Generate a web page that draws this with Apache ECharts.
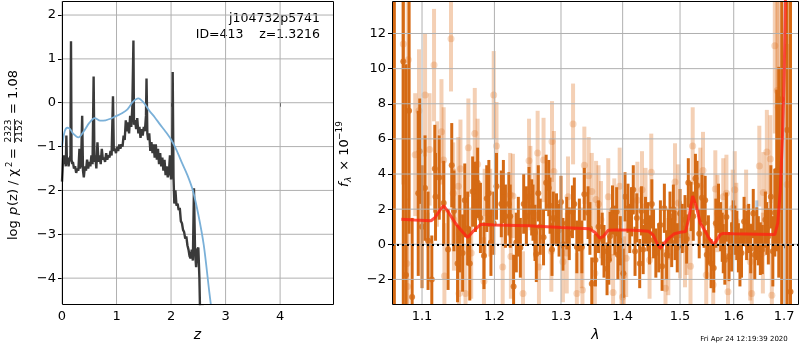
<!DOCTYPE html>
<html>
<head>
<meta charset="utf-8">
<script src="https://cdn.jsdelivr.net/npm/echarts@6/dist/echarts.min.js"></script>
<style>
html, body { margin: 0; padding: 0; background: #fff; }
#chart { width: 800px; height: 350px; }
</style>
</head>
<body>
<div id="chart"></div>
<script>
// left panel: log p(z) and the smooth curve
var pzZ = [0.00,0.01,0.02,0.03,0.04,0.05,0.06,0.07,0.08,0.09,0.10,0.11,0.12,0.13,0.14,0.155,0.165,0.175,0.19,0.20,
    0.22,0.24,0.26,0.28,0.30,0.32,0.33,0.35,0.37,0.385,0.40,0.42,0.44,0.46,0.48,0.50,0.52,0.54,0.56,0.58,
    0.595,0.61,0.63,0.65,0.67,0.69,0.71,0.73,0.75,0.77,0.79,0.81,0.83,0.85,0.87,0.89,0.91,0.935,0.95,0.97,
    0.99,1.01,1.03,1.05,1.07,1.09,1.11,1.13,1.15,1.17,1.19,1.21,1.23,1.25,1.27,1.29,1.31,1.32,1.34,1.36,
    1.38,1.40,1.42,1.44,1.46,1.48,1.50,1.52,1.54,1.55,1.565,1.58,1.60,1.62,1.64,1.66,1.68,1.70,1.72,1.74,
    1.76,1.78,1.80,1.82,1.84,1.86,1.88,1.90,1.92,1.94,1.96,1.98,2.00,2.02,2.03,2.045,2.06,2.08,2.10,2.12,
    2.14,2.16,2.18,2.20,2.22,2.24,2.26,2.28,2.30,2.32,2.34,2.36,2.38,2.40,2.42,2.44,2.46,2.48,2.50,2.52,
    2.53,2.60];
var pzLog = [-1.80,-1.55,-1.25,-1.35,-1.20,-1.40,-1.30,-1.45,-0.75,-1.35,-1.40,-1.25,-1.45,-1.35,-1.30,-1.20,1.40,-1.30,-1.40,-1.35,
    -1.50,-1.45,-1.60,-1.50,-1.55,-1.05,-1.50,-1.40,-0.30,-1.55,-1.70,-1.45,-1.55,-1.30,-1.50,-1.35,-1.45,-1.20,-1.40,0.60,
    -1.35,-1.20,-1.50,-0.90,-1.35,-1.20,-1.40,-1.05,-1.30,-1.25,-1.35,-1.15,-1.30,-1.20,-1.25,-1.10,-1.20,0.15,-1.10,-1.05,
    -1.15,-1.00,-1.10,-0.95,-1.05,-0.95,-1.00,-0.75,-0.85,-0.40,-0.65,-0.45,-0.70,-0.30,-0.55,-0.10,1.42,-0.50,-0.40,-0.60,
    -0.35,-0.70,-0.55,-0.80,-0.60,-0.75,-0.55,-0.65,-0.30,0.55,-0.70,-0.85,-0.70,-1.10,-0.90,-1.15,-0.95,-1.25,-0.95,-1.30,
    -1.05,-1.40,-1.15,-1.45,-1.25,-1.55,-1.30,-1.65,-1.45,-1.70,-1.60,-1.20,-1.75,-1.30,0.70,-1.70,-2.30,-2.00,-2.35,-2.30,
    -2.45,-2.40,-2.70,-2.75,-2.90,-2.95,-3.10,-3.05,-3.25,-3.35,-3.50,-3.55,-3.35,-3.60,-1.95,-3.40,-3.75,-3.35,-3.30,-4.00,
    -4.65,-4.65];
var fitZ = [0,0.05,0.10,0.15,0.20,0.30,0.40,0.50,0.60,0.70,0.80,0.90,1.00,1.10,1.20,1.30,1.40,1.50,1.60,1.70,
    1.80,1.90,2.00,2.10,2.20,2.30,2.40,2.50,2.60,2.70,2.75];
var fitLog = [-1.00,-0.65,-0.57,-0.60,-0.70,-0.79,-0.65,-0.46,-0.35,-0.41,-0.40,-0.36,-0.30,-0.24,-0.15,0.02,0.10,0.00,-0.18,-0.33,
    -0.50,-0.66,-0.84,-1.08,-1.37,-1.65,-2.00,-2.55,-3.25,-4.30,-4.80];

// right panel: spectrum (dark and light sets), model, a few blue points
var darkLam = [1.064,1.0755,1.079,1.083,1.087,1.095,1.097,1.104,1.108,1.113,1.117,1.118,1.129,1.135,1.140,1.148,1.151,1.155,1.162,1.165,
    1.169,1.173,1.176,1.180,1.185,1.189,1.192,1.195,1.203,
    1.210,1.216,1.221,1.223,1.228,1.232,1.238,1.243,1.247,1.251,1.255,1.260,1.262,1.268,1.273,1.277,1.281,1.283,1.288,1.293,
    1.297,1.303,1.309,1.318,1.325,1.333,1.337,1.343,1.349,1.355,1.360,1.366,
    1.369,1.374,1.379,1.383,1.390,1.392,1.401,1.404,1.409,1.415,1.418,1.424,1.429,1.435,1.439,1.446,1.453,1.462,1.468,1.472,
    1.479,1.485,1.491,1.500,1.509,1.515,1.520,1.528,1.531,1.535,
    1.540,1.546,1.552,1.557,1.562,1.566,1.571,1.575,1.580,1.586,1.591,1.596,1.602,1.609,1.615,1.620,1.625,1.633,1.638,1.645,
    1.652,1.662,1.668,1.673,1.677,1.685,1.689,1.695,1.706,1.713,
    1.100,1.123,1.143,1.158,1.199,1.213,1.235,1.257,1.265,1.286,1.300,1.313,1.321,1.329,1.346,1.377,1.387,1.396,1.412,1.421,
    1.432,1.443,1.450,1.457,1.465,1.476,1.482,1.488,1.495,1.504,1.512,1.524,1.544,1.549,1.578,1.583,1.599,1.606,1.612,1.629,
    1.641,1.648,1.656,1.665,1.681];
var darkFlux = [-4.0,10.4,-1.75,7.6,-3.0,2.9,5.3,3.2,0.2,-2.0,4.3,2.7,2.35,-0.3,4.5,-1.1,0.6,-0.5,0.9,-1.1,
    3.0,2.7,3.5,1.5,-0.65,2.6,2.9,0.1,3.3,
    2.3,1.6,2.3,1.6,-2.4,0.1,-0.2,2.3,1.6,2.7,2.1,0.65,-0.55,1.0,0.4,3.5,3.2,2.2,1.5,1.4,
    0.8,0.0,1.2,1.85,-0.15,-0.15,2.85,1.8,-2.25,-0.9,1.0,0.3,
    -0.4,-1.4,0.45,1.95,1.85,-0.6,-1.65,2.7,2.05,1.85,3.1,1.5,-1.1,-0.3,1.3,0.25,0.6,-0.2,-1.25,2.05,
    0.6,0.1,0.5,1.75,1.4,3.5,2.15,3.75,3.35,0.6,
    2.65,2.5,0.25,-1.1,-1.35,1.2,2.05,1.0,-0.25,1.55,-0.7,-0.15,0.8,-0.2,-0.5,1.3,0.5,-0.25,1.75,0.6,
    -0.25,1.4,0.45,2.7,-0.4,4.2,4.1,8.25,6.5,-2.7,
    1.0,3.8,1.9,2.5,1.2,3.0,1.0,1.8,2.9,-0.3,2.4,0.6,2.3,1.1,0.9,-0.9,0.8,0.2,0.9,-0.4,
    1.9,1.0,2.3,-0.5,1.1,-0.6,1.6,2.0,-0.2,0.9,0.3,1.6,1.2,-0.6,0.4,-0.9,1.1,0.5,-1.0,0.9,
    -0.6,0.2,-0.3,0.9,1.8];
var darkErr = [20,16,12,7,4.5,4.7,3.0,3.0,2.8,2.5,2.5,2.5,2.4,2.3,2.4,2.2,2.2,2.2,2.1,2.1,
    2.0,2.0,2.0,2.0,1.9,1.9,1.9,1.9,1.9,
    1.9,1.8,1.8,1.8,1.8,1.7,1.7,1.7,1.7,1.7,1.6,1.6,1.6,1.6,1.6,1.6,1.6,1.6,1.5,1.5,
    1.5,1.5,1.5,1.5,1.5,1.5,1.5,1.5,1.5,1.5,1.5,1.5,
    1.5,1.5,1.4,1.4,1.4,1.4,1.4,1.4,1.4,1.4,1.4,1.4,1.4,1.4,1.4,1.4,1.4,1.4,1.4,1.4,
    1.4,1.4,1.4,1.4,1.4,1.4,1.4,1.4,1.4,1.4,
    1.4,1.4,1.4,1.4,1.4,1.4,1.4,1.4,1.4,1.4,1.4,1.4,1.4,1.4,1.4,1.4,1.4,1.4,1.4,1.5,
    1.5,1.6,1.6,1.8,2.0,4.6,6,12,20,20,
    3.5,2.4,2.3,2.1,1.8,1.8,1.7,1.6,1.6,1.5,1.5,1.5,1.5,1.5,1.5,1.4,1.4,1.4,1.4,1.4,
    1.4,1.4,1.4,1.4,1.4,1.4,1.4,1.4,1.4,1.4,1.4,1.4,1.4,1.4,1.4,1.4,1.4,1.4,1.4,1.4,
    1.4,1.4,1.4,1.5,2.5];

var lightLam = [1.0755,1.080,1.081,1.082,1.091,1.096,1.104,1.110,1.116,1.120,1.126,1.129,1.130,1.139,1.142,1.143,1.149,1.150,1.152,1.159,
    1.163,1.167,1.172,1.176,1.185,1.186,1.194,1.199,1.203,
    1.212,1.223,1.224,1.227,1.242,1.251,1.253,1.260,1.264,1.266,1.273,1.285,1.286,1.289,1.303,1.309,1.311,1.319,1.325,1.332,
    1.334,1.337,1.344,1.349,1.354,1.356,1.360,1.364,
    1.376,1.384,1.386,1.395,1.398,1.400,1.402,1.406,1.425,1.433,1.439,1.446,1.449,1.474,1.479,1.491,1.497,1.500,1.509,1.512,
    1.519,1.523,1.537,1.542,1.548,
    1.561,1.565,1.569,1.580,1.586,1.589,1.598,1.602,1.605,1.624,1.632,1.635,1.650,1.657,1.658,1.665,1.672,1.675,1.681,1.686,
    1.688,1.706];
var lightFlux = [11.4,-1.1,-2.4,10.5,5.1,7.6,8.5,5.4,10.2,4.0,6.4,4.8,-1.8,11.7,2.9,1.4,3.3,-2.8,4.3,-2.8,
    5.5,-0.5,6.3,4.55,-2.1,1.8,1.8,8.5,5.6,
    -1.3,2.8,-0.7,2.75,-2.8,4.75,3.2,1.65,5.2,-1.3,4.8,-0.4,5.85,4.15,-1.0,-0.5,2.7,6.85,-2.8,-0.2,
    -2.6,4.5,3.9,3.0,-1.65,2.55,2.3,1.4,
    2.7,-2.75,1.55,3.3,-1.35,-3.0,-1.75,-0.8,2.5,3.1,2.15,-0.9,4.1,-2.5,-0.7,3.55,2.35,0.25,-0.25,0.45,
    -1.25,5.6,3.3,4.2,-1.75,
    -2.3,3.15,1.75,2.7,2.9,-2.7,2.05,3.1,1.3,2.05,-1.0,-2.8,4.45,-0.5,2.95,5.25,4.85,-2.9,11.3,8.75,
    7.8,3.4];
var lightErr = [8,5,5,8,3.5,3.5,3.5,3.2,3.2,3.0,3.0,3.0,3.0,3.0,2.9,2.9,2.8,2.8,2.8,2.8,
    2.8,2.6,2.6,2.6,2.5,2.5,2.5,2.5,2.5,
    2.4,2.4,2.4,2.4,2.4,2.4,2.4,2.4,2.4,2.4,2.4,2.3,2.3,2.3,2.3,2.3,2.3,2.3,2.3,2.3,
    2.3,2.2,2.2,2.2,2.2,2.2,2.2,2.2,
    2.2,2.2,2.2,2.2,2.2,2.2,2.2,2.2,2.2,2.2,2.2,2.2,2.2,2.2,2.2,2.2,2.2,2.2,2.2,2.2,
    2.2,2.2,2.2,2.2,2.2,
    2.2,2.2,2.2,2.2,2.2,2.2,2.2,2.2,2.2,2.2,2.2,2.2,2.3,2.3,2.3,2.4,2.5,2.5,5,6,
    6,8];

var blueLam = [1.108, 1.645, 1.683];
var blueFlux = [0.8, 1.5, 2.6];
var blueErr = [1.0, 1.0, 1.2];

var modelLam = [1.073,1.09,1.112,1.118,1.124,1.129,1.135,1.145,1.155,1.162,1.17,1.18,1.19,1.2,1.25,1.3,1.345,1.355,1.362,1.368,
    1.376,1.39,1.42,1.444,1.452,1.46,1.465,1.47,1.48,1.49,1.5,1.51,1.516,1.523,1.53,1.537,1.545,1.553,1.561,1.566,
    1.574,1.58,1.6,1.65,1.681,1.687,1.692,1.697,1.70,1.703];
var modelFlux = [1.42,1.38,1.34,1.55,1.95,2.2,1.85,1.2,0.7,0.38,0.75,1.12,1.12,1.1,1.05,0.95,0.88,0.65,0.35,0.45,
    0.8,0.82,0.8,0.74,0.55,0.0,-0.22,0.0,0.35,0.6,0.68,0.72,1.5,2.75,2.1,1.2,0.8,0.35,0.02,0.15,
    0.55,0.62,0.6,0.57,0.55,1.2,3.0,6.5,9.5,14.5];

var zTicks = [0, 1, 2, 3, 4];
var logTicks = [-4, -3, -2, -1, 0, 1, 2];
var lamTicks = [1.1, 1.2, 1.3, 1.4, 1.5, 1.6, 1.7];
var fluxTicks = [-2, 0, 2, 4, 6, 8, 10, 12];

var Z_RANGE = [0, 4.97], LOG_RANGE = [-4.59, 2.32];
var LAM_RANGE = [1.061, 1.7306], FLUX_RANGE = [-3.4, 13.85];
var FONT = 'DejaVu Sans';

var el = document.getElementById('chart');
var myChart = echarts.init(el);

function pairs(xs, ys, fx) {
    return xs.map(function (x, i) { return [fx ? fx(x) : x, ys[i]]; });
}

function minusFmt(v) {
    return v < 0 ? '\u2212' + Math.abs(v) : String(v);
}

// grid lines as plain line series (ticks are custom values, so split lines are not used)
function gridLines(idx, xs, ys, xr, yr) {
    function one(a, b) {
        return {
            type: 'line', xAxisIndex: idx, yAxisIndex: idx, silent: true,
            showSymbol: false, clip: false, data: [a, b],
            lineStyle: { color: '#b0b0b0', width: 1, opacity: 1 }
        };
    }
    return xs.map(function (v) { return one([v, yr[0]], [v, yr[1]]); })
        .concat(ys.map(function (v) { return one([xr[0], v], [xr[1], v]); }));
}

function errBars(lam, flux, err, color, width) {
    var data = lam.map(function (l, i) {
        return [Math.log(l), flux[i] - err[i], flux[i] + err[i]];
    });
    return {
        type: 'custom',
        xAxisIndex: 1,
        yAxisIndex: 1,
        silent: true,
        data: data,
        encode: { x: 0, y: [1, 2] },
        renderItem: function (params, api) {
            var lo = Math.max(api.value(1), FLUX_RANGE[0]);
            var hi = Math.min(api.value(2), FLUX_RANGE[1]);
            var p1 = api.coord([api.value(0), lo]);
            var p2 = api.coord([api.value(0), hi]);
            return {
                type: 'line',
                shape: { x1: p1[0], y1: p1[1], x2: p2[0], y2: p2[1] },
                style: { stroke: color, lineWidth: width }
            };
        }
    };
}

function dots(lam, flux, color, size) {
    return {
        type: 'scatter',
        xAxisIndex: 1,
        yAxisIndex: 1,
        silent: true,
        symbolSize: size,
        itemStyle: { color: color },
        data: pairs(lam, flux, Math.log)
    };
}

function txt(x, y, s, font, align) {
    return {
        type: 'text', x: x, y: y,
        style: { text: s, fill: '#000', font: font, align: align || 'left', verticalAlign: 'middle' }
    };
}

var tickLabel = { color: '#000', fontSize: 13, fontFamily: FONT, margin: 6 };
var nameStyle = { fontSize: 14, fontStyle: 'italic', color: '#000', fontFamily: FONT };
var lnLam = LAM_RANGE.map(Math.log);

var series = [].concat(
    gridLines(0, zTicks, logTicks, Z_RANGE, LOG_RANGE),
    gridLines(1, lamTicks.map(Math.log), fluxTicks, lnLam, FLUX_RANGE),
    [
        {
            type: 'line', xAxisIndex: 0, yAxisIndex: 0, showSymbol: false, silent: true,
            data: pairs(pzZ, pzLog),
            lineStyle: { color: '#3a3a3a', width: 2.4 }
        },
        {
            type: 'line', xAxisIndex: 0, yAxisIndex: 0, showSymbol: false, silent: true, smooth: 0.3,
            data: pairs(fitZ, fitLog),
            lineStyle: { color: '#7ab0d8', width: 1.8 }
        },
        errBars(lightLam, lightFlux, lightErr, 'rgba(222,110,25,0.32)', 4),
        dots(lightLam, lightFlux, 'rgba(222,110,25,0.32)', 7),
        errBars(blueLam, blueFlux, blueErr, 'rgba(90,140,190,0.45)', 3),
        errBars(darkLam, darkFlux, darkErr, '#d56a14', 3),
        dots(darkLam, darkFlux, '#d56a14', 6),
        {
            type: 'line', xAxisIndex: 1, yAxisIndex: 1, showSymbol: false, silent: true,
            data: pairs(modelLam, modelFlux, Math.log),
            lineStyle: { color: 'rgba(255,35,20,0.78)', width: 3 },
            markLine: {
                silent: true, symbol: 'none', label: { show: false },
                emphasis: { disabled: true },
                lineStyle: { color: '#000', type: [2, 3], width: 2 },
                data: [{ yAxis: 0 }]
            }
        }
    ]
);

var option = {
    animation: false,
    backgroundColor: '#fff',
    textStyle: { fontFamily: FONT },
    grid: [
        { left: 62, top: 1, width: 271, height: 303, show: false },
        { left: 392, top: 1, width: 407, height: 303, show: false }
    ],
    xAxis: [{
        gridIndex: 0, type: 'value', min: Z_RANGE[0], max: Z_RANGE[1],
        axisLine: { show: false },
        axisTick: { show: true, length: 4, lineStyle: { color: '#000' }, customValues: zTicks },
        axisLabel: Object.assign({ customValues: zTicks }, tickLabel),
        splitLine: { show: false },
        name: 'z', nameLocation: 'middle', nameGap: 24, nameTextStyle: nameStyle
    }, {
        gridIndex: 1, type: 'value', min: lnLam[0], max: lnLam[1],
        axisLine: { show: false },
        axisTick: { show: true, length: 4, lineStyle: { color: '#000' }, customValues: lamTicks.map(Math.log) },
        axisLabel: Object.assign({
            customValues: lamTicks.map(Math.log),
            formatter: function (v) { return Math.exp(v).toFixed(1); }
        }, tickLabel),
        splitLine: { show: false },
        name: 'λ', nameLocation: 'middle', nameGap: 24, nameTextStyle: nameStyle
    }],
    yAxis: [{
        gridIndex: 0, type: 'value', min: LOG_RANGE[0], max: LOG_RANGE[1],
        axisLine: { show: false },
        axisTick: { show: true, length: 4, lineStyle: { color: '#000' }, customValues: logTicks },
        axisLabel: Object.assign({ customValues: logTicks, formatter: minusFmt }, tickLabel),
        splitLine: { show: false }
    }, {
        gridIndex: 1, type: 'value', min: FLUX_RANGE[0], max: FLUX_RANGE[1],
        axisLine: { show: false },
        axisTick: { show: true, length: 4, lineStyle: { color: '#000' }, customValues: fluxTicks },
        axisLabel: Object.assign({ customValues: fluxTicks, formatter: minusFmt }, tickLabel),
        splitLine: { show: false }
    }],
    series: series,
    graphic: [
        {
            type: 'rect', z: 100, silent: true,
            shape: { x: 62.5, y: 1.5, width: 271, height: 303 },
            style: { fill: 'none', stroke: '#000', lineWidth: 1 }
        },
        {
            type: 'rect', z: 100, silent: true,
            shape: { x: 392.5, y: 1.5, width: 406, height: 303 },
            style: { fill: 'none', stroke: '#000', lineWidth: 1 }
        },
        txt(320, 19, 'j104732p5741', '12.5px "DejaVu Sans"', 'right'),
        txt(320, 35, 'ID=413    z=1.3216', '12.5px "DejaVu Sans"', 'right'),
        txt(744, 339, 'Fri Apr 24 12:19:39 2020', '7px "DejaVu Sans"', 'center'),
        {
            type: 'group', x: 14, y: 150, rotation: Math.PI / 2,
            children: [
                txt(-90, 0, 'log', '13px "DejaVu Sans"'),
                txt(-65, 0, 'p', 'italic 13px "DejaVu Sans"'),
                txt(-56, 0, '(z) / χ', '13px "DejaVu Sans"'),
                txt(-17, -4, '2', '8.5px "DejaVu Sans"'),
                txt(-9, 0, '=', '13px "DejaVu Sans"'),
                txt(19, -5, '2323', '9px "DejaVu Sans"', 'center'),
                {
                    type: 'line', shape: { x1: 7, y1: 0.5, x2: 31, y2: 0.5 },
                    style: { stroke: '#000', lineWidth: 0.8 }
                },
                txt(19, 6, '2152', '9px "DejaVu Sans"', 'center'),
                txt(36, 0, '= 1.08', '13px "DejaVu Sans"')
            ]
        },
        {
            type: 'group', x: 345, y: 154, rotation: Math.PI / 2,
            children: [
                txt(-33, 0, 'f', 'italic 13px "DejaVu Sans"'),
                txt(-28, 4, 'λ', 'italic 9px "DejaVu Sans"'),
                txt(-21, 0, ' × 10', '13px "DejaVu Sans"'),
                txt(14, -5, '\u221219', '9px "DejaVu Sans"')
            ]
        }
    ]
};

myChart.setOption(option);
</script>
</body>
</html>
